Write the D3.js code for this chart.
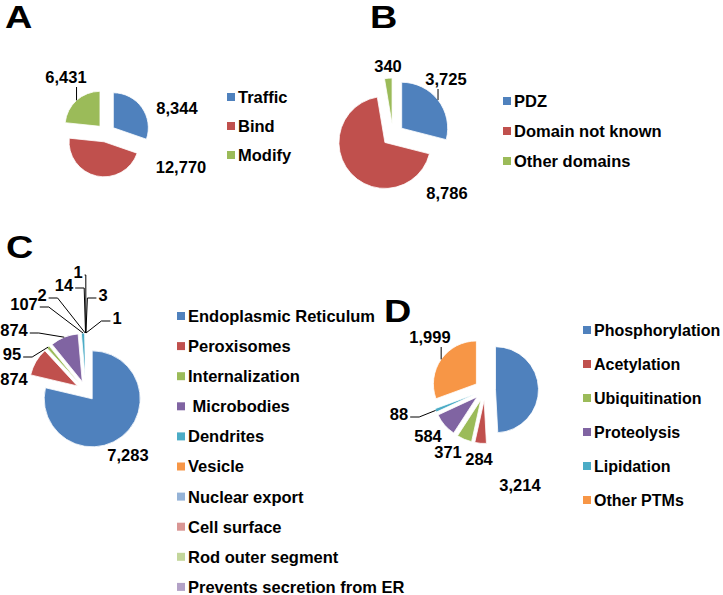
<!DOCTYPE html>
<html><head><meta charset="utf-8">
<script src="https://cdn.jsdelivr.net/npm/d3@7"></script>
<style>
body{margin:0;background:#fff}
svg{display:block}
text{font-family:"Liberation Sans",Arial,sans-serif;font-weight:bold;fill:#000}
</style>
</head><body><svg id="chart" width="723" height="595"></svg>
<script>
// ---------- data ----------
const aCategories = ["Traffic", "Bind", "Modify"];
const aValues = [8344, 12770, 6431];
const bCategories = ["PDZ", "Domain not known", "Other domains"];
const bValues = [3725, 8786, 340];
const cCategories = ["Endoplasmic Reticulum", "Peroxisomes", "Internalization", " Microbodies", "Dendrites",
  "Vesicle", "Nuclear export", "Cell surface", "Rod outer segment", "Prevents secretion from ER"];
const cValues = [7283, 874, 95, 874, 107, 2, 14, 1, 3, 1];
const dCategories = ["Phosphorylation", "Acetylation", "Ubiquitination", "Proteolysis", "Lipidation", "Other PTMs"];
const dValues = [3214, 284, 371, 584, 88, 1999];
const panelLetters = ["A", "B", "C", "D"];
const palette = ["#4F81BD", "#C0504D", "#9BBB59", "#8064A2", "#4BACC6", "#F79646",
  "#95B3D7", "#D99694", "#C3D69B", "#B3A2C7"];

// ---------- layout (positions only) ----------
const layouts = [
  { cats: aCategories, vals: aValues, letter: [5, 28], center: [106, 133], r: 35, explode: 9,
    legend: { x: 227, y: 97, step: 29, fs: 16.5 },
    labels: [[71, -25], [75, 34], [-40, -56]], leaders: [0, 0, 1] },
  { cats: bCategories, vals: bValues, letter: [370, 28], center: [393, 135], r: 46, explode: 11,
    legend: { x: 503, y: 101, step: 30, fs: 16.5 },
    labels: [[53, -56], [54, 58], [-5, -69]], leaders: [1, 0, 0] },
  { cats: cCategories, vals: cValues, letter: [6, 258], center: [86, 391], r: 48, explode: 10,
    legend: { x: 177, y: 316, step: 30.1, fs: 16.5 },
    labels: [[42, 64], [-72, -12], [-74, -37], [-72, -61], [-62, -87], [-44, -96], [-22, -106], [-8, -119], [17, -96], [31, -73]],
    leaders: [0, 0, 1, 1, 1, 1, 1, 1, 1, 1] },
  { cats: dCategories, vals: dValues, letter: [384, 322], center: [485, 390], r: 43, explode: 10.5,
    legend: { x: 583, y: 330, step: 34, fs: 16 },
    labels: [[35, 95], [-6, 69], [-37, 62], [-57, 46], [-86, 24], [-55, -53]],
    leaders: [0, 0, 0, 0, 1, 1] }
];

const svg = d3.select("#chart");
const fmt = d3.format(",");
const FS = 16.5;

layouts.forEach((L, pi) => {
  const g = svg.append("g");
  g.append("text").attr("x", 0).attr("y", 0)
    .attr("transform", `translate(${L.letter[0]},${L.letter[1]}) scale(1.22,1)`)
    .style("font-size", "31px").text(panelLetters[pi]);

  const pie = d3.pie().sort(null).value(d => d)(L.vals);
  const arc = d3.arc().innerRadius(0).outerRadius(L.r);
  const [cx, cy] = L.center;

  const off = d => {
    const m = (d.startAngle + d.endAngle) / 2;
    return [Math.sin(m) * L.explode, -Math.cos(m) * L.explode];
  };
  const outerPt = d => {
    const m = (d.startAngle + d.endAngle) / 2;
    const o = off(d);
    return [cx + o[0] + Math.sin(m) * L.r, cy + o[1] - Math.cos(m) * L.r];
  };

  g.selectAll("path.slice").data(pie).enter().append("path")
    .attr("class", "slice")
    .attr("transform", d => { const o = off(d); return `translate(${cx + o[0]},${cy + o[1]})`; })
    .attr("d", arc)
    .attr("fill", (d, i) => palette[i])
    .attr("stroke", "#fff").attr("stroke-width", 0.8);

  pie.forEach((d, i) => {
    const lc = [cx + L.labels[i][0], cy + L.labels[i][1]];
    const t = g.append("text").attr("x", lc[0]).attr("y", lc[1]).attr("dy", "0.36em")
      .attr("text-anchor", "middle").style("font-size", FS + "px").text(fmt(d.value));
    if (L.leaders[i]) {
      const w = t.node().getComputedTextLength();
      const h = 12;
      const op = outerPt(d);
      const dx = lc[0] - op[0];
      let pts;
      if (Math.abs(dx) < w / 2 + 2) {
        const yEnd = lc[1] + (op[1] > lc[1] ? h / 2 + 4 : -h / 2 - 4);
        pts = [op, [op[0], yEnd]];
      } else {
        const side = dx < 0 ? 1 : -1;
        const ex = lc[0] + side * (w / 2 + 2);
        const ey = lc[1] + 3;
        const ext = Math.min(9, Math.max(0, (op[0] - ex) * side));
        pts = [op, [ex + side * ext, ey], [ex, ey]];
      }
      g.append("path").attr("d", d3.line()(pts))
        .attr("fill", "none").attr("stroke", "#000").attr("stroke-width", 1);
    }
  });

  const lg = g.append("g");
  L.cats.forEach((c, i) => {
    const y = L.legend.y + i * L.legend.step;
    lg.append("rect").attr("x", L.legend.x).attr("y", y - 4).attr("width", 8).attr("height", 8)
      .attr("fill", palette[i]);
    lg.append("text").attr("x", L.legend.x + 11).attr("y", y).attr("dy", "0.36em")
      .style("font-size", L.legend.fs + "px").attr("xml:space", "preserve").style("white-space", "pre").text(c);
  });
});
</script>
</body></html>
